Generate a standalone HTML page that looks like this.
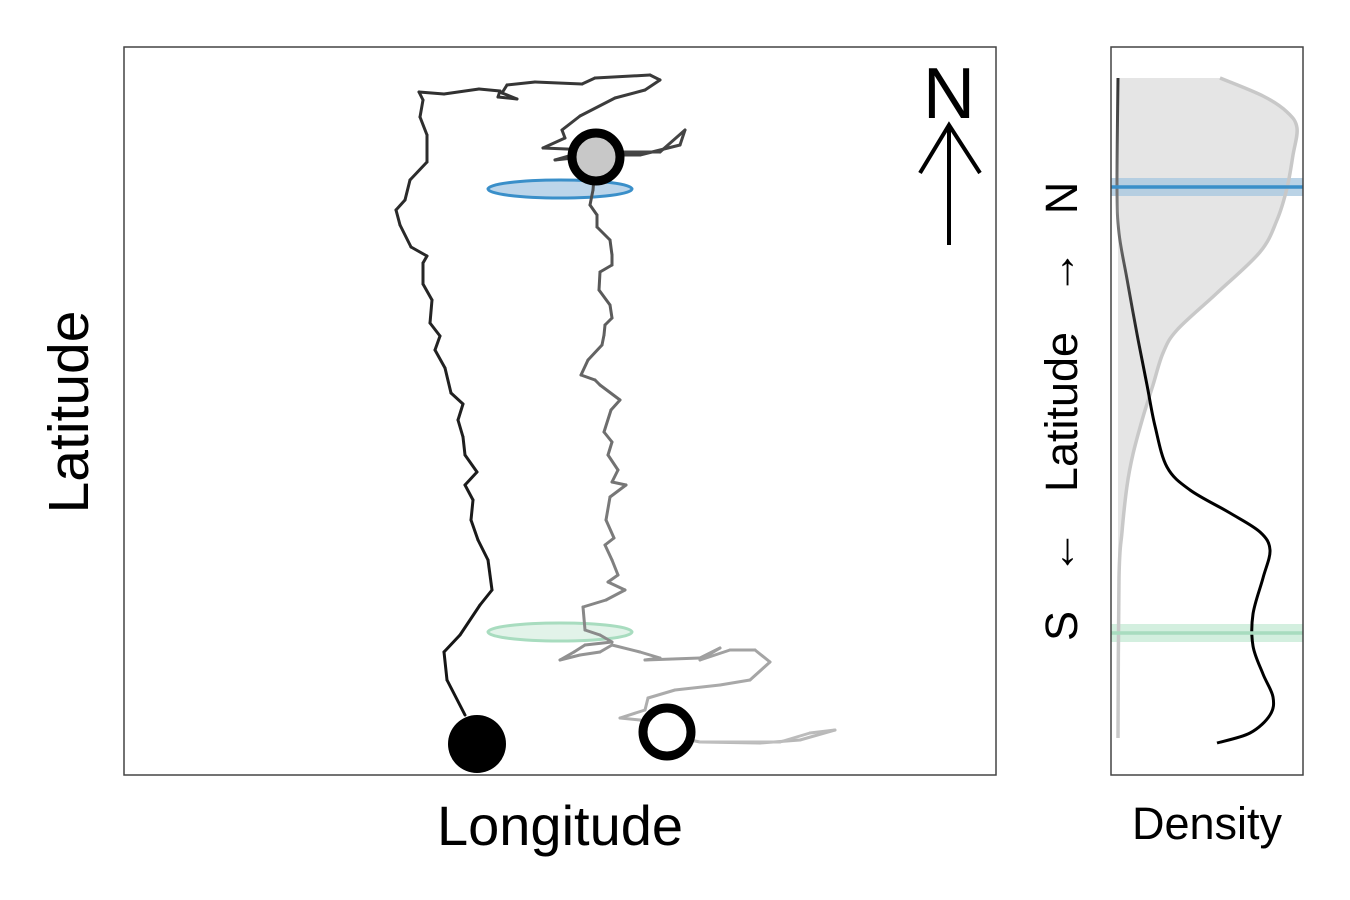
<!DOCTYPE html>
<html><head><meta charset="utf-8">
<style>
body{margin:0;background:#fff;}
svg{display:block;font-family:"Liberation Sans",sans-serif;}
</style></head>
<body>
<svg id="chart" width="1350" height="900" viewBox="0 0 1350 900">
<rect x="0" y="0" width="1350" height="900" fill="#fff"/>
<g id="map"></g>
<g id="dens"></g>
<rect x="124" y="47" width="872" height="728" fill="none" stroke="#444" stroke-width="1.5"/>
<rect x="1111" y="47" width="192" height="728" fill="none" stroke="#444" stroke-width="1.5"/>
<text x="560" y="845" font-size="56" text-anchor="middle">Longitude</text>
<text transform="translate(88,412) rotate(-90)" font-size="57" text-anchor="middle">Latitude</text>
<text x="1207" y="839" font-size="45" text-anchor="middle">Density</text>
<g font-size="45">
<text transform="translate(1077,626) rotate(-90)" text-anchor="middle">S</text>
<text transform="translate(1075,552) rotate(-90)" text-anchor="middle">←</text>
<text transform="translate(1077,412) rotate(-90)" text-anchor="middle">Latitude</text>
<text transform="translate(1075,272) rotate(-90)" text-anchor="middle">→</text>
<text transform="translate(1077,198) rotate(-90)" text-anchor="middle">N</text>
</g>
<g>
<text x="949" y="118" font-size="72" text-anchor="middle">N</text>
<line x1="949" y1="245" x2="949" y2="125" stroke="#000" stroke-width="4"/>
<polyline points="920,173 949,125 980,173" fill="none" stroke="#000" stroke-width="4"/>
</g>
</svg>
<script>
// map data: lon/lat in plot units (0..872, 0..728)
const trackALon=[341,323,320,336,356,368,364,354,347,349,341,353,341,339,334,339,327,321,311,316,306,308,299,299,303,287,276,272,281,286,303,303,296,299,295,320,355,376,374,393,378,383,411,458,471,526,536,521,491,456,438,441,419,466,431,476,516,556,561,536,486,471];
const trackALat=[60,95,123,140,170,185,215,235,255,275,290,303,320,338,355,371,382,407,425,439,452,475,491,512,519,528,550,565,575,595,613,640,658,675,683,681,686,684,678,676,682,690,693,691,697,700,695,685,677,659,645,637,627,625,615,620,620,630,645,623,623,618];
const trackBLon=[471,469,466,473,473,486,488,488,476,475,486,488,481,480,478,464,457,471,476,496,487,480,488,484,494,488,502,486,482,490,481,488,494,484,501,482,459,461,476,488,461,450,436,456,476,488,516,536,521,576,596,576,606,631,646,626,596,551,524,521,496,516,541,576,636,676,711,686,656,576];
const trackBLat=[610,585,570,560,548,535,520,510,503,485,470,457,450,440,430,415,400,395,390,375,365,343,333,320,305,293,290,278,255,237,230,215,200,193,185,175,168,145,140,133,130,123,115,120,123,130,123,117,115,117,127,115,125,125,113,95,90,85,77,65,57,55,40,33,32,35,45,42,33,33];
const startLon=[353],startLat=[31];
const endLon=[543],endLat=[43];
const midLon=[472],midLat=[618];
const blueEllLon=[436],blueEllLat=[586];
const greenEllLon=[436],greenEllLat=[143];
// density data
const densLat=[697,679,663,647,620,587,555,523,482,445,422,390,358,321,289,243,197,37];
const densGray=[102,145,169,179,175,169,159,142,99,59,45,35,25,15,9,4,1,0];
const blackLat=[697,587,542,496,441,390,349,308,285,262,243,225,197,161,129,101,78,60,42,32];
const densBlack=[0,-1,1,9,19,29,37,49,72,112,142,152,145,135,135,145,155,152,132,99];
const blueLineLat=[588],greenLineLat=[142];

const NS='http://www.w3.org/2000/svg';
const X=v=>124+v, Y=v=>775-v, DX=v=>1118+v;
function mk(t,a,p){const e=document.createElementNS(NS,t);for(const k in a)e.setAttribute(k,a[k]);p.appendChild(e);return e;}
const map=document.getElementById('map'), dens=document.getElementById('dens');

let e1=mk('ellipse',{cx:X(blueEllLon[0]),cy:Y(blueEllLat[0]),rx:72,ry:9,fill:'#bcd5ea',stroke:'#3a8fc9','stroke-width':3},map);


let e2=mk('ellipse',{cx:X(greenEllLon[0]),cy:Y(greenEllLat[0]),rx:72,ry:9,fill:'#e2f3e9',stroke:'#a8dcbf','stroke-width':3},map);



function lerp(a,b,t){return Math.round(a+(b-a)*t);}
function track(lon,lat,c0,c1,name){
  const g=mk('g',{},map);
  
  
  for(let i=0;i<lon.length-1;i++){
    const t=i/(lon.length-2), c=lerp(c0,c1,t);
    mk('line',{x1:X(lon[i]),y1:Y(lat[i]),x2:X(lon[i+1]),y2:Y(lat[i+1]),stroke:`rgb(${c},${c},${c})`,'stroke-width':3,'stroke-linecap':'round'},g);
  }
}
track(trackALon,trackALat,20,70,'track-outbound');
track(trackBLon,trackBLat,75,190,'track-return');

let c1=mk('circle',{cx:X(startLon[0]),cy:Y(startLat[0]),r:29,fill:'#000'},map);


let c2=mk('circle',{cx:X(endLon[0]),cy:Y(endLat[0]),r:24,fill:'#fff',stroke:'#000','stroke-width':9},map);


let c3=mk('circle',{cx:X(midLon[0]),cy:Y(midLat[0]),r:24,fill:'#c8c8c8',stroke:'#000','stroke-width':9},map);



const defs=mk('defs',{},dens);
const lg=mk('linearGradient',{id:'bg',x1:0,y1:78,x2:0,y2:744,gradientUnits:'userSpaceOnUse'},defs);
mk('stop',{offset:'0','stop-color':'#333'},lg);
mk('stop',{offset:'0.2','stop-color':'#808080'},lg);
mk('stop',{offset:'0.45','stop-color':'#000'},lg);
mk('stop',{offset:'1','stop-color':'#000'},lg);

let pts=densLat.map((l,i)=>DX(densGray[i])+','+Y(l));
let area=mk('polygon',{points:DX(0)+','+Y(densLat[0])+' '+pts.join(' ')+' '+DX(0)+','+Y(densLat[densLat.length-1]),fill:'#e5e5e5'},dens);



function smooth(xs,ys){let d='M'+xs[0]+','+ys[0];for(let i=0;i<xs.length-1;i++){const x0=xs[i-1]??xs[i],y0=ys[i-1]??ys[i],x3=xs[i+2]??xs[i+1],y3=ys[i+2]??ys[i+1];
 d+=` C${xs[i]+(xs[i+1]-x0)/6},${ys[i]+(ys[i+1]-y0)/6} ${xs[i+1]-(x3-xs[i])/6},${ys[i+1]-(y3-ys[i])/6} ${xs[i+1]},${ys[i+1]}`;}return d;}

let bb=mk('rect',{x:1111,y:Y(blueLineLat[0])-9,width:192,height:18,fill:'#a9c8e0',opacity:0.8},dens);


let gb=mk('rect',{x:1111,y:Y(greenLineLat[0])-9,width:192,height:18,fill:'#d3efdf'},dens);



let gl=mk('path',{d:smooth(densLat.map((l,i)=>DX(densGray[i])),densLat.map(Y)),fill:'none',stroke:'#c8c8c8','stroke-width':3.5},dens);


let bl=mk('path',{d:smooth(blackLat.map((l,i)=>DX(densBlack[i])),blackLat.map(Y)),fill:'none',stroke:'url(#bg)','stroke-width':3},dens);



let bln=mk('line',{x1:1111,x2:1303,y1:Y(blueLineLat[0]),y2:Y(blueLineLat[0]),stroke:'#3a8fc9','stroke-width':3.5},dens);


let gln=mk('line',{x1:1111,x2:1303,y1:Y(greenLineLat[0]),y2:Y(greenLineLat[0]),stroke:'#a8dcbf','stroke-width':3.5},dens);


</script>
</body></html>
